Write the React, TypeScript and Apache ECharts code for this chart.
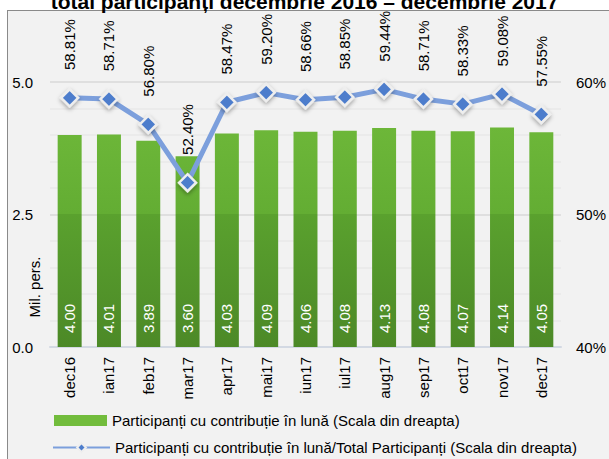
import React, { useEffect, useRef } from "react";
import * as echarts from "echarts";

const categories = ["dec16", "ian17", "feb17", "mar17", "apr17", "mai17", "iun17", "iul17", "aug17", "sep17", "oct17", "nov17", "dec17"];
const participants = [4.0, 4.01, 3.89, 3.6, 4.03, 4.09, 4.06, 4.08, 4.13, 4.08, 4.07, 4.14, 4.05];
const sharePct = [58.81, 58.71, 56.8, 52.4, 58.47, 59.2, 58.66, 58.85, 59.44, 58.71, 58.33, 59.08, 57.55];
const barName = "Participanți cu contribuție în lună (Scala din dreapta)";
const lineName = "Participanți cu contribuție în lună/Total Participanți (Scala din dreapta)";
const titleText = "total participanți decembrie 2016 – decembrie 2017";
const leftAxisName = "Mil. pers.";

const FONT = "'Liberation Sans', Arial, sans-serif";

export default function App() {
  const ref = useRef<HTMLDivElement>(null);
  useEffect(() => {
    if (!ref.current) return;
    const chart = echarts.init(ref.current, undefined, { renderer: "svg" });
    const legendText = { fontSize: 15, color: "#000", fontFamily: FONT };
    chart.setOption({
      animation: false,
      textStyle: { fontFamily: FONT },
      title: {
        text: titleText,
        left: "center",
        top: -14,
        textStyle: { fontSize: 21, fontWeight: "bold", color: "#000", fontFamily: FONT },
      },
      grid: { left: 50, right: 47, top: 82, bottom: 112, containLabel: false },
      legend: [
        {
          left: 49,
          top: 408,
          itemWidth: 53,
          itemHeight: 11,
          textStyle: legendText,
          data: [{ name: barName, icon: "rect" }],
        },
        {
          left: 47,
          top: 435,
          itemWidth: 57,
          itemHeight: 11,
          textStyle: legendText,
          data: [{ name: lineName }],
        },
      ],
      graphic: [
        {
          type: "text",
          x: 34,
          y: 287,
          rotation: Math.PI / 2,
          style: { text: leftAxisName, fontSize: 15, fill: "#000", fontFamily: FONT, align: "center", verticalAlign: "middle" },
        },
      ],
      xAxis: {
        type: "category",
        data: categories,
        axisTick: { show: false },
        axisLine: { lineStyle: { color: "#d3d9e3", width: 2 } },
        axisLabel: { rotate: 90, fontSize: 15, color: "#000", margin: 10, fontFamily: FONT },
      },
      yAxis: [
        {
          type: "value",
          min: 0,
          max: 5,
          interval: 2.5,
          axisLabel: { formatter: (v: number) => v.toFixed(1), fontSize: 15, color: "#000", margin: 17, fontFamily: FONT },
          splitLine: { lineStyle: { color: "#d9d9d9", width: 1.5 } },
          minorTick: { show: false, splitNumber: 5 },
          minorSplitLine: { show: true, lineStyle: { color: "#e8e8e8", width: 1.5 } },
          axisLine: { show: false },
          axisTick: { show: false },
        },
        {
          type: "value",
          min: 40,
          max: 60,
          interval: 10,
          axisLabel: { formatter: "{value}%", fontSize: 15, color: "#000", margin: 15, fontFamily: FONT },
          splitLine: { show: false },
          axisLine: { show: false },
          axisTick: { show: false },
        },
      ],
      series: [
        {
          name: barName,
          type: "bar",
          data: participants,
          barWidth: "61%",
          itemStyle: {
            color: new echarts.graphic.LinearGradient(0, 82, 0, 347, [
              { offset: 0, color: "#72bc3c" },
              { offset: 0.5, color: "#63ad33" },
              { offset: 0.5, color: "#5aa12e" },
              { offset: 1, color: "#4c8927" },
            ], true),
          },
          label: {
            show: true,
            position: "insideBottom",
            rotate: 90,
            align: "left",
            verticalAlign: "middle",
            distance: 14,
            fontSize: 15,
            color: "#fff",
            fontFamily: FONT,
            formatter: (p: any) => Number(p.value).toFixed(2),
          },
        },
        {
          name: lineName,
          type: "line",
          yAxisIndex: 1,
          data: sharePct,
          symbol: "diamond",
          symbolSize: 17,
          lineStyle: { color: "#7c9fdc", width: 5 },
          itemStyle: {
            color: "#4d7dcc",
            borderColor: "#eeeeee",
            borderWidth: 2.5,
            shadowBlur: 4,
            shadowColor: "rgba(0,0,0,0.35)",
            shadowOffsetY: 2,
          },
          z: 5,
          label: {
            show: true,
            position: "top",
            rotate: 90,
            align: "left",
            verticalAlign: "middle",
            distance: 18,
            fontSize: 15,
            color: "#000",
            fontFamily: FONT,
            formatter: (p: any) => Number(p.value).toFixed(2) + "%",
          },
        },
      ],
    });
    return () => chart.dispose();
  }, []);

  return (
    <div style={{ position: "fixed", left: 0, top: 0, width: 609, height: 459, background: "#fff", overflow: "hidden" }}>
      <div style={{ position: "absolute", left: 7, top: 10, width: 640, height: 500, background: "#f2f2f2", border: "1px solid #8a8a8a" }} />
      <div ref={ref} style={{ position: "absolute", left: 0, top: 0, width: 609, height: 459 }} />
    </div>
  );
}
